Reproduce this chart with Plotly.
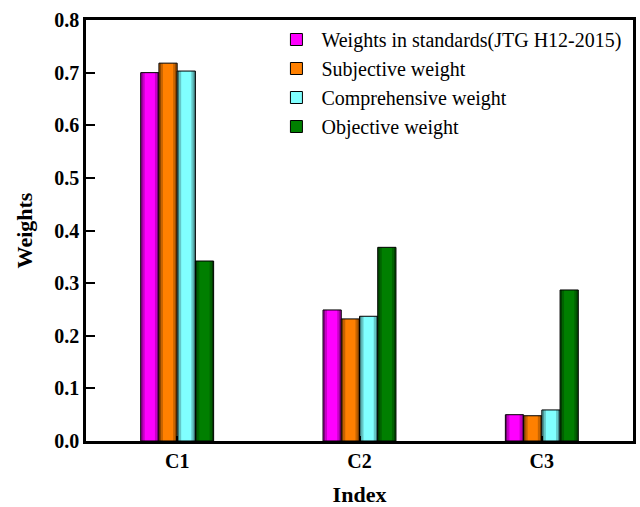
import plotly.graph_objects as go

categories = ["C1", "C2", "C3"]
series_names = ["Weights in standards(JTG H12-2015)", "Subjective weight",
                "Comprehensive weight", "Objective weight"]
standards = [0.700, 0.249, 0.050]
subjective = [0.718, 0.232, 0.048]
comprehensive = [0.703, 0.237, 0.059]
objective = [0.342, 0.368, 0.287]
y_ticks = [0.0, 0.1, 0.2, 0.3, 0.4, 0.5, 0.6, 0.7, 0.8]

series_values = [standards, subjective, comprehensive, objective]
colors = ["#ff00ff", "#ff8000", "#80ffff", "#007f00"]

# shading strips (start, end fraction of bar width, black alpha) to imitate gradient fill
shade = [(0.0, 0.10, 0.55), (0.10, 0.22, 0.22), (0.78, 0.90, 0.22), (0.90, 1.0, 0.55)]

FONT = "Liberation Serif"
xpos = list(range(len(categories)))
bw = 0.1

fig = go.Figure()
for i, (name, vals, col) in enumerate(zip(series_names, series_values, colors)):
    left = -2 * bw + i * bw
    fig.add_trace(go.Bar(
        x=xpos, y=vals, name=name, offset=left, width=bw,
        marker=dict(color=col, line=dict(color="black", width=1)),
        showlegend=True,
    ))
    for (a, b, alpha) in shade:
        fig.add_trace(go.Bar(
            x=xpos, y=vals, offset=left + a * bw + 0.003 * (a == 0),
            width=(b - a) * bw - 0.003 * ((a == 0) + (b == 1.0)),
            marker=dict(color=f"rgba(0,0,0,{alpha})", line=dict(width=0)),
            showlegend=False, hoverinfo="skip",
        ))

fig.update_layout(
    width=640, height=507,
    margin=dict(l=86, r=7, t=20, b=66),
    barmode="overlay",
    plot_bgcolor="white", paper_bgcolor="white",
    font=dict(family=FONT, color="black"),
    legend=dict(x=0.339, y=1.0, xanchor="left", yanchor="top",
                font=dict(family=FONT, size=20, color="black"),
                bgcolor="rgba(0,0,0,0)", itemwidth=40),
)
fig.update_xaxes(
    range=[-0.5, 2.5], tickvals=xpos, ticktext=categories,
    tickfont=dict(family=FONT, size=20, color="black", weight="bold"),
    title=dict(text="<b>Index</b>", font=dict(family=FONT, size=22, color="black"), standoff=17),
    showline=True, linecolor="black", linewidth=2.5, mirror=True,
    ticks="inside", ticklen=5, tickwidth=2, tickcolor="black",
    showgrid=False, zeroline=False, automargin=False,
)
fig.update_yaxes(
    range=[0, 0.8], tickvals=y_ticks, ticktext=[f"{v:.1f}" for v in y_ticks],
    tickfont=dict(family=FONT, size=20, color="black", weight="bold"),
    title=dict(text="<b>Weights</b>", font=dict(family=FONT, size=22, color="black"), standoff=16),
    showline=True, linecolor="black", linewidth=2.5, mirror=True,
    ticks="inside", ticklen=9, tickwidth=2, tickcolor="black",
    showgrid=False, zeroline=False, automargin=False,
)
fig.write_html("out.html")
